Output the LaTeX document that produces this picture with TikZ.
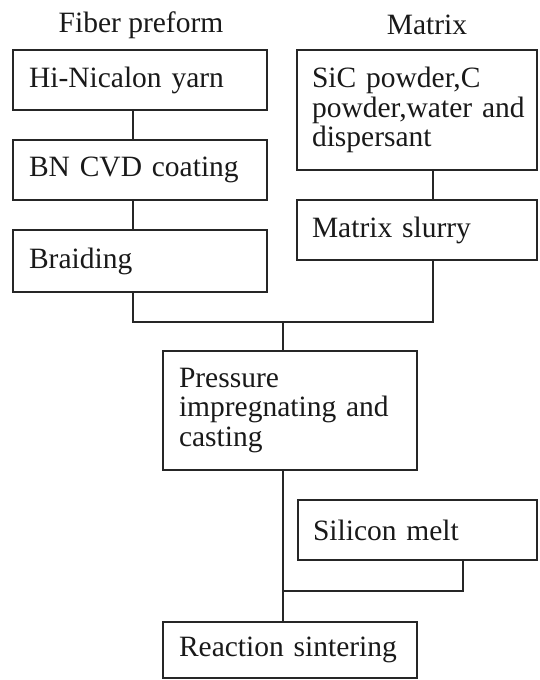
\documentclass[tikz,border=0pt]{standalone}
\usepackage{fontspec}
\setmainfont{Liberation Serif}
\begin{document}
\begin{tikzpicture}[x=1pt,y=-1pt,
  box/.style={draw=black!85, line width=1.6pt, rectangle, inner xsep=16pt, inner ysep=0pt,
    align=left, font=\fontsize{29.5}{29.5}\selectfont, text=black!90},
  head/.style={font=\fontsize{29.5}{29.5}\selectfont, text=black!90, inner sep=0pt},
  conn/.style={draw=black!85, line width=1.6pt}]
\useasboundingbox (0,0) rectangle (540,680);
\node[head] (fh) at (141,25) {Fiber preform};
\node[head] (mh) at (427,25) {Matrix};
\node[box, minimum width=254pt, minimum height=60pt, text width=222pt] (hi) at (140,80) {Hi-Nicalon yarn};
\node[box, minimum width=254pt, minimum height=60pt, text width=222pt] (bn) at (140,170) {BN CVD coating};
\node[box, minimum width=254pt, minimum height=62pt, text width=222pt] (br) at (140,261) {Braiding};
\node[box, minimum width=240pt, minimum height=120pt, text width=210pt, inner xsep=15pt] (sic) at (417,110) {\mbox{SiC powder,C}\\\mbox{powder,water and}\\\mbox{dispersant}};
\node[box, minimum width=240pt, minimum height=60pt, text width=210pt, inner xsep=15pt] (ms) at (417,230) {Matrix slurry};
\node[box, minimum width=254pt, minimum height=119pt, text width=222pt] (pr) at (290,410.5) {Pressure\\impregnating and\\casting};
\node[box, minimum width=239pt, minimum height=60pt, text width=209pt, inner xsep=15pt] (si) at (417.5,530) {Silicon melt};
\node[box, minimum width=254pt, minimum height=56pt, text width=222pt] (re) at (290,650) {Reaction sintering};
\coordinate (j1) at (283,322);
\coordinate (j2) at (283,591);
\draw[conn] ([xshift=-7pt]hi.south) -- ([xshift=-7pt]bn.north);
\draw[conn] ([xshift=-7pt]bn.south) -- ([xshift=-7pt]br.north);
\draw[conn] ([xshift=16pt]sic.south) -- ([xshift=16pt]ms.north);
\draw[conn] ([xshift=-7pt]br.south) |- (j1) -| ([xshift=16pt]ms.south);
\draw[conn] (j1) -- (pr.north -| j1);
\draw[conn] ([xshift=-7pt]pr.south) -- ([xshift=-7pt]re.north);
\draw[conn] ([xshift=45.5pt]si.south) |- (j2);
\end{tikzpicture}
\end{document}
